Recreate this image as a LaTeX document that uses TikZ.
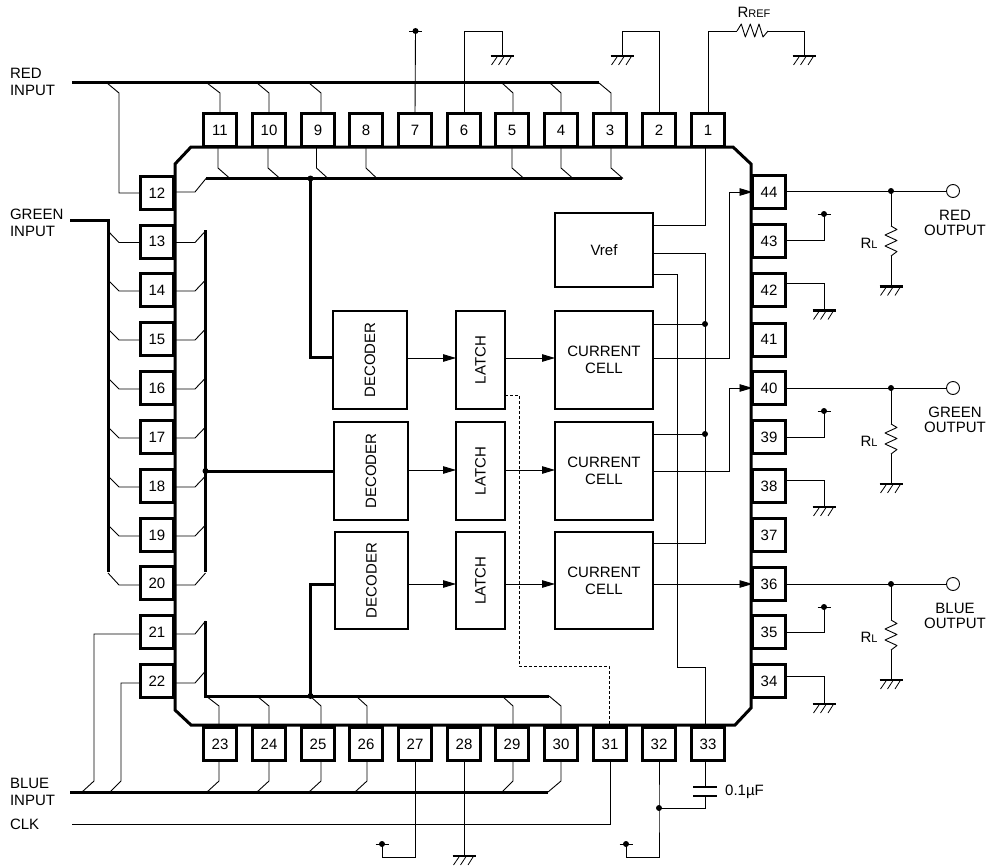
\documentclass[tikz,border=0pt]{standalone}
\usepackage{fontspec}
\setmainfont{Liberation Sans}
\usetikzlibrary{arrows.meta}
\tikzset{
  wire/.style={line width=0.9pt},
  bus/.style={line width=3pt,line join=miter},
  dotted wire/.style={line width=0.9pt,dash pattern=on 2.5pt off 2.5pt},
  outline/.style={line width=3pt},
  arrowwire/.style={line width=0.9pt,-{Triangle[length=13pt,width=7.5pt]}},
  pin/.style={draw,line width=3pt,minimum width=33pt,minimum height=33pt,inner sep=0pt,outer sep=0pt,fill=white},
  block/.style={draw,line width=2pt,inner sep=0pt,outer sep=0pt,fill=white,align=center},
  lbl/.style={inner sep=0pt,outer sep=0pt,align=left,anchor=west,font=\fontsize{15}{17}\selectfont},
  outlbl/.style={inner sep=0pt,outer sep=0pt,align=center,font=\fontsize{15}{15}\selectfont},
  gnd/.pic={
    \draw[line width=2.5pt] (-11.5,0)--(11.5,0);
    \draw[line width=0.8pt] (-5,1)--(-10.5,9) (1.7,1)--(-3.5,9) (9,1)--(4,9);
  },
  pwr/.pic={
    \draw[line width=0.8pt] (-6.5,0)--(6.5,0);
    \fill (0,0) circle (3pt);
  },
  resv/.pic={\draw[wire,line join=round] (0,0)--(6,3.5)--(-6,9)--(6,14.5)--(-6,20)--(6,25.5)--(0,30);},
  resh/.pic={\draw[wire,line join=round] (0,0)--(4.3,-7)--(8.3,6)--(13.3,-7)--(17.7,6)--(22,-7)--(26,6)--(31,0);},
  every node/.style={font=\fontsize{15}{17}\selectfont},
}
\begin{document}
\begin{tikzpicture}[x=1pt,y=-1pt]
\useasboundingbox (0,0) rectangle (993,867);

% chip outline
\draw[outline,line join=miter] (191,147)--(733,147)--(751,164)--(751,708)--(735,725)--(191,725)--(175,710)--(175,164)--cycle;

% pins
\foreach \n/\x in {11/220,10/269,9/318,8/366,7/415,6/464,5/512,4/561,3/610,2/659,1/708}
  \node[pin] (p\n) at (\x,130) {\n};
\foreach \n/\y in {12/193,13/241.5,14/290,15/339,16/388,17/437,18/486,19/535,20/583,21/632,22/681}
  \node[pin] (p\n) at (157,\y) {\n};
\foreach \n/\x in {23/220,24/269,25/318,26/366,27/415,28/464,29/512,30/561,31/610,32/659,33/708}
  \node[pin] (p\n) at (\x,744) {\n};
\foreach \n/\y in {44/192,43/241,42/290,41/339.5,40/388,39/437,38/486,37/535,36/584,35/632,34/681}
  \node[pin] (p\n) at (769,\y) {\n};

% blocks
\node[block,minimum width=98pt,minimum height=74pt] (vref) at (604,250) {Vref};
\node[block,minimum width=74pt,minimum height=98pt] (d1) at (370,360) {\rotatebox{90}{DECODER}};
\node[block,minimum width=74pt,minimum height=98pt] (d2) at (371,471) {\rotatebox{90}{DECODER}};
\node[block,minimum width=73pt,minimum height=97pt] (d3) at (371.5,580.5) {\rotatebox{90}{DECODER}};
\node[block,minimum width=49pt,minimum height=98pt] (l1) at (480.5,360) {\rotatebox{90}{LATCH}};
\node[block,minimum width=49pt,minimum height=98pt] (l2) at (480.5,471) {\rotatebox{90}{LATCH}};
\node[block,minimum width=49pt,minimum height=97pt] (l3) at (480.5,580.5) {\rotatebox{90}{LATCH}};
\node[block,minimum width=98pt,minimum height=98pt] (c1) at (604,360) {CURRENT\\CELL};
\node[block,minimum width=98pt,minimum height=98pt] (c2) at (604,471) {CURRENT\\CELL};
\node[block,minimum width=98pt,minimum height=97pt] (c3) at (604,580.5) {CURRENT\\CELL};

% red buses
\coordinate (rb0) at (72,82);
\coordinate (rb1) at (599,82);
\draw[bus] (rb0)--(rb1);
\coordinate (ri0) at (206,178.5);
\coordinate (ri1) at (622,178.5);
\draw[bus] (ri0)--(ri1);
\coordinate (rj) at (310.5,178.5);
\draw[bus] (rj)--(310.5,357)--(d1.west |- 0,357);
\fill (rj) circle (3pt);
\draw[wire] (107,83)--(119,93)|-(p12.west);
\foreach \n/\s/\e in {11/207/220,10/257/269,9/309/321,5/502/513,4/550/561,3/599/611}
  \draw[wire] (\s,83)--(\e,93)--(\e,113);
\foreach \n/\s/\e in {11/218/230,10/268/280,9/316.5/328,8/366/377,5/512/524,4/561/573,3/611/623}
  \draw[wire] (\s,148)--(\s,168)--(\e,178.5);
\draw[wire] (p12.east |- 0,192)--(195,192)--(ri0);

% green buses
\coordinate (gb0) at (70,220);
\coordinate (gb1) at (108,572);
\draw[bus] (gb0)-|(gb1);
\coordinate (gi0) at (205.5,230);
\coordinate (gi1) at (205.5,572);
\draw[bus] (gi0)--(gi1);
\coordinate (gj) at (205.5,471);
\draw[bus] (gj)--(d2.west |- gj);
\fill (gj) circle (3pt);
\foreach \n/\y/\t in {13/242.5/231,14/291/280,15/340/329,16/389/378,17/438/427,18/487/476,19/536/525,20/585/573}{
  \draw[wire] (108,\t)--(119,\y)--(p\n.west |- 0,\y);
  \draw[wire] (p\n.east |- 0,\y)--(195,\y)--(205.5,\t);
}

% blue buses
\coordinate (bb0) at (70,792.5);
\coordinate (bb1) at (548,792.5);
\draw[bus] (bb0)--(bb1);
\coordinate (bi0) at (205.5,621);
\coordinate (bi1) at (549,696);
\draw[bus] (bi0)|-(bi1);
\coordinate (bj) at (310.5,696);
\draw[bus] (bj)--(310.5,584)--(d3.west |- 0,584);
\fill (bj) circle (3pt);
\draw[wire] (p21.west |- 0,634)--(94,634)--(94,781)--(82,792);
\draw[wire] (p22.west |- 0,683)--(121,683)--(121,781)--(110,792);
\draw[wire] (p21.east |- 0,634)--(195,634)--(bi0);
\draw[wire] (p22.east |- 0,683)--(195,683)--(205.5,671);
\foreach \n/\s/\e in {23/207/219,24/257/269,25/309/321,26/355/367,29/502/513,30/548/561}
  \draw[wire] (\e,762)--(\e,781)--(\s,792);
\foreach \n/\s/\e in {23/206/219,24/257/269,25/310/321,26/356/367,29/502/513,30/549/561}
  \draw[wire] (\s,696)--(\e,706)--(\e,725);

% top external
\coordinate (v7) at (415.5,31);
\draw[wire] (p7.north)--(v7);
\pic at (v7) {pwr};
\coordinate (g6) at (502,56);
\draw[wire] (p6.north)|-(502,31)--(g6);
\pic at (g6) {gnd};
\coordinate (g2) at (622,56);
\draw[wire] (p2.north)|-(622,31)--(g2);
\pic at (g2) {gnd};
\coordinate (ra) at (737,31);
\coordinate (rb) at (768,31);
\coordinate (g1) at (804,56);
\draw[wire] (p1.north)|-(ra);
\pic at (ra) {resh};
\draw[wire] (rb)-|(g1);
\pic at (g1) {gnd};
\node[inner sep=0pt] (rreflbl) at (754,12) {R{\fontsize{11}{13}\selectfont REF}};

% Vref and internal wiring
\coordinate (j1) at (705,324);
\coordinate (j2) at (705,434);
\coordinate (j3) at (705,543);
\draw[wire] (vref.east |- 0,225)--(705,225)--(705,148);
\draw[wire] (vref.east |- 0,253)--(705,253)--(j3)--(c3.east |- j3);
\draw[wire] (c1.east |- j1)--(j1);
\draw[wire] (c2.east |- j2)--(j2);
\fill (j1) circle (3pt) (j2) circle (3pt);
\draw[wire] (vref.east |- 0,274)--(677,274)--(677,667)--(705,667)--(705,725);

% rows
\foreach \d/\l/\c/\y in {d1/l1/c1/358,d2/l2/c2/470,d3/l3/c3/584}{
  \draw[arrowwire] (\d.east |- 0,\y)--(\l.west |- 0,\y);
  \draw[arrowwire] (\l.east |- 0,\y)--(\c.west |- 0,\y);
}
\draw[arrowwire] (c1.east |- 0,358)--(729,358)--(729,192)--(p44.west);
\draw[arrowwire] (c2.east |- 0,471)--(729,471)--(729,388)--(p40.west);
\draw[arrowwire] (c3.east |- 0,584)--(p36.west);

% clk latch
\draw[dotted wire] (l1.east |- 0,395)--(519,395)--(519,666)--(609,666)--(609,725);

% outputs
\foreach \n/\t/\top/\bot/\lab/\nm in {44/191/226/286.5/RED/r,40/388/424/484/GREEN/g,36/584/620/680/BLUE/b}{
  \node[circle,draw,line width=0.9pt,minimum size=13pt,inner sep=0pt,outer sep=0pt] (o\nm) at (953,\t) {};
  \draw[wire] (p\n.east |- 0,\t)--(o\nm.west);
  \coordinate (oj\nm) at (891,\t);
  \fill (oj\nm) circle (3pt);
  \coordinate (rt\nm) at (891,\top);
  \coordinate (gn\nm) at (891,\bot);
  \draw[wire] (oj\nm)--(rt\nm);
  \pic at (rt\nm) {resv};
  \draw[wire] (891,\top+30)--(gn\nm);
  \pic at (gn\nm) {gnd};
  \node[inner sep=0pt] (rl\nm) at (869,\top+17) {R{\fontsize{11}{13}\selectfont L}};
  \node[outlbl] (ol\nm) at (955,\t+32) {\lab\\OUTPUT};
}

% right pins to rails
\foreach \n/\t/\u in {43/240/214,39/437/411,35/632/607}{
  \coordinate (pw\n) at (824,\u);
  \draw[wire] (p\n.east |- 0,\t)-|(pw\n);
  \pic at (pw\n) {pwr};
}
\foreach \n/\t/\u in {42/283/310.5,38/480/507,34/676/704}{
  \coordinate (gp\n) at (824,\u);
  \draw[wire] (p\n.east |- 0,\t)-|(gp\n);
  \pic at (gp\n) {gnd};
}

% bottom external
\coordinate (v27) at (382,844);
\draw[wire] (p27.south)|-(v27 |- 0,857)--(v27);
\pic at (v27) {pwr};
\coordinate (g28) at (464,856);
\draw[wire] (p28.south)--(g28);
\pic at (g28) {gnd};
\coordinate (clk) at (72,824);
\draw[wire] (p31.south)|-(clk);
\coordinate (v32) at (626,844);
\coordinate (j32) at (659,808);
\draw[wire] (p32.south)--(j32)|-(v32 |- 0,857)--(v32);
\pic at (v32) {pwr};
\fill (j32) circle (3pt);
\coordinate (cap1) at (705,787);
\coordinate (cap2) at (705,796);
\draw[wire] (705,762)--(cap1);
\draw[wire] (cap2)--(705,808)--(j32);
\draw[line width=2.5pt] (693,787)--(717,787) (693,796)--(717,796);
\node[inner sep=0pt,anchor=west] (capl) at (725,792) {0.1µF};

% labels
\node[lbl] (li1) at (10,82) {RED\\INPUT};
\node[lbl] (li2) at (10,222.5) {GREEN\\INPUT};
\node[lbl] (li3) at (10,791.5) {BLUE\\INPUT};
\node[lbl] (li4) at (10,824.5) {CLK};
\end{tikzpicture}
\end{document}
